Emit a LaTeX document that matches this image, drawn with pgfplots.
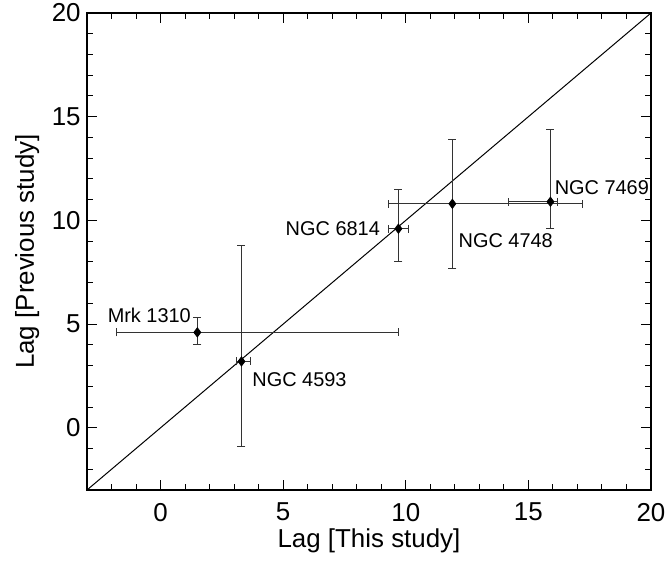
\documentclass[border=0pt]{standalone}
\usepackage{pgfplots}
\pgfplotsset{compat=1.18}
\usepackage{fontspec}
\setmainfont{Liberation Sans}
\begin{document}
\begin{tikzpicture}
\begin{axis}[
  scale only axis, width=282bp, height=238.5bp,
  xmin=-3, xmax=20, ymin=-3, ymax=20,
  xtick={0,5,...,20}, ytick={0,5,...,20},
  minor xtick={-2,-1,1,2,3,4,6,7,8,9,11,12,13,14,16,17,18,19},
  minor ytick={-2,-1,1,2,3,4,6,7,8,9,11,12,13,14,16,17,18,19},
  tick align=inside, major tick length=5bp, minor tick length=3bp,
  every tick/.style={black, line width=0.5bp},
  axis line style={line width=0.6bp},
  /pgf/number format/assume math mode=true,
  ticklabel style={font=\fontsize{13}{15}\selectfont},
  xticklabel style={yshift=-3bp},
  yticklabel style={inner sep=3bp},
  xlabel={Lag [This study]}, ylabel={Lag [Previous study]},
  label style={font=\fontsize{13}{15}\selectfont},
  xlabel style={at={(axis description cs:0.5,0)}, anchor=center, yshift=-25.5bp},
  ylabel style={at={(axis description cs:-0.106,0.5)}, anchor=center},
  clip=false,
]
\addplot[black, line width=0.5bp] coordinates {(-3,-3) (20,20)};
\addplot[only marks, mark=diamond*, mark size=2.3bp, black,
  error bars/.cd, x dir=both, y dir=both, x explicit, y explicit,
  error bar style={black!80, line width=0.5bp},
  error mark options={rotate=90, black!80, mark size=2bp, line width=0.5bp}]
  table[x=x, y=y, x error plus=xp, x error minus=xm, y error plus=yp, y error minus=ym] {
  x    y     xp    xm    yp    ym
  1.5  4.6   8.2   3.3   0.7   0.6
  3.3  3.2   0.35  0.2   5.6   4.1
  9.7  9.6   0.4   0.4   1.9   1.6
  11.9 10.8  5.3   2.6   3.1   3.1
  15.9 10.9  0.3   1.7   3.5   1.3
};
\begin{scope}[every node/.style={font=\fontsize{10}{12}\selectfont, inner sep=0pt}]
\node[anchor=east] at (axis cs:1.25,5.44) {Mrk 1310};
\node[anchor=west] at (axis cs:3.73,2.3) {NGC 4593};
\node[anchor=east] at (axis cs:8.96,9.58) {NGC 6814};
\node[anchor=west] at (axis cs:12.14,9.0) {NGC 4748};
\node[anchor=west] at (axis cs:16.06,11.6) {NGC 7469};
\end{scope}
\coordinate (ll) at (rel axis cs:0,0);
\coordinate (ur) at (rel axis cs:1,1);
\end{axis}
\pgfresetboundingbox
\path ([shift={(-43.5bp,-35.5bp)}]ll) rectangle ([shift={(7bp,6.5bp)}]ur);
\end{tikzpicture}
\end{document}
